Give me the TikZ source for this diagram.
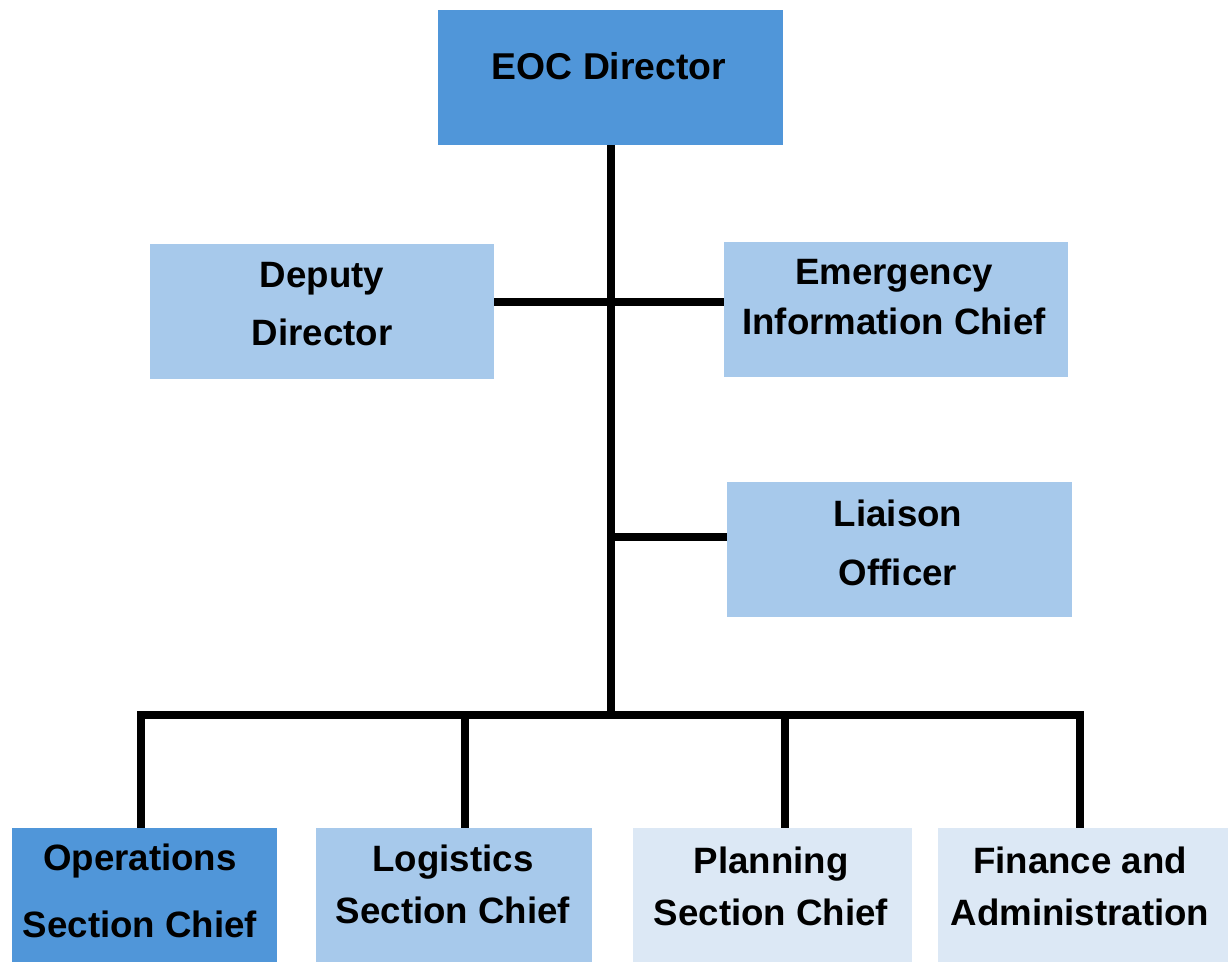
\documentclass[tikz,border=0pt]{standalone}
\usepackage{fontspec}
\setmainfont{Liberation Sans}
\definecolor{darkb}{RGB}{80,150,217}
\definecolor{midb}{RGB}{167,201,235}
\definecolor{paleb}{RGB}{220,232,245}
\begin{document}
\begin{tikzpicture}[x=0.75pt,y=-0.75pt,
  box/.style={draw=none,rectangle,inner sep=0pt},
  lbl/.style={inner sep=0pt,align=center,font=\fontsize{27.5}{41}\selectfont\bfseries},
  wire/.style={line width=5.3pt,black,line cap=rect}]
\useasboundingbox (0,0) rectangle (1228,962);
% boxes
\path[fill=darkb] (438,10) rectangle (783,145);
\node[box,minimum width=345*0.75pt,minimum height=135*0.75pt] (eoc) at (610.5,77.5) {};
\fill[midb] (150,244) rectangle (494,379);
\node[box,minimum width=344*0.75pt,minimum height=135*0.75pt] (dep) at (322,311.5) {};
\fill[midb] (724,242) rectangle (1068,377);
\node[box,minimum width=344*0.75pt,minimum height=135*0.75pt] (emg) at (896,309.5) {};
\fill[midb] (727,482) rectangle (1072,617);
\node[box,minimum width=345*0.75pt,minimum height=135*0.75pt] (lia) at (899.5,549.5) {};
\fill[darkb] (12,828) rectangle (277,962);
\node[box,minimum width=265*0.75pt,minimum height=134*0.75pt] (ops) at (144.5,895) {};
\fill[midb] (316,828) rectangle (592,962);
\node[box,minimum width=276*0.75pt,minimum height=134*0.75pt] (log) at (454,895) {};
\fill[paleb] (633,828) rectangle (912,962);
\node[box,minimum width=279*0.75pt,minimum height=134*0.75pt] (pla) at (772.5,895) {};
\fill[paleb] (938,828) rectangle (1228,962);
\node[box,minimum width=290*0.75pt,minimum height=134*0.75pt] (fin) at (1083,895) {};
% labels
\node[lbl,font=\fontsize{28}{41}\selectfont\bfseries] (eoct) at (609,66) {EOC Director};
\node[lbl,font=\fontsize{27.5}{43.5}\selectfont\bfseries] (dept) at (322,304) {Deputy\\Director};
\node[lbl,font=\fontsize{27.5}{37.5}\selectfont\bfseries] (emgt) at (894,297) {Emergency\\Information Chief};
\node[lbl,font=\fontsize{27.5}{44}\selectfont\bfseries] (liat) at (898,543) {Liaison\\Officer};
\node[lbl,font=\fontsize{27.5}{50}\selectfont\bfseries] (opst) at (140,891) {Operations\\Section Chief};
\node[lbl,font=\fontsize{27.5}{39}\selectfont\bfseries] (logt) at (453,884) {Logistics\\Section Chief};
\node[lbl,font=\fontsize{27.5}{39}\selectfont\bfseries] (plat) at (771,886) {Planning\\Section Chief};
\node[lbl,font=\fontsize{27.5}{39}\selectfont\bfseries] (fint) at (1080,886) {Finance and\\Administration};
% connectors
\coordinate (j1) at (611,302);
\coordinate (j2) at (611,537);
\coordinate (j3) at (611,715);
\coordinate (bl) at (141,715);
\coordinate (b2) at (465,715);
\coordinate (b3) at (785,715);
\coordinate (br) at (1080,715);
\draw[wire,line cap=butt] (eoc.south -| j1) -- (j3);
\draw[wire,line cap=butt] (dep.east |- j1) -- (emg.west |- j1);
\draw[wire,line cap=butt] (j2) -- (lia.west |- j2);
\draw[wire] (bl) -- (br);
\draw[wire,line cap=butt] (bl) -- (ops.north -| bl);
\draw[wire,line cap=butt] (b2) -- (log.north -| b2);
\draw[wire,line cap=butt] (b3) -- (pla.north -| b3);
\draw[wire,line cap=butt] (br) -- (fin.north -| br);
\end{tikzpicture}
\end{document}
